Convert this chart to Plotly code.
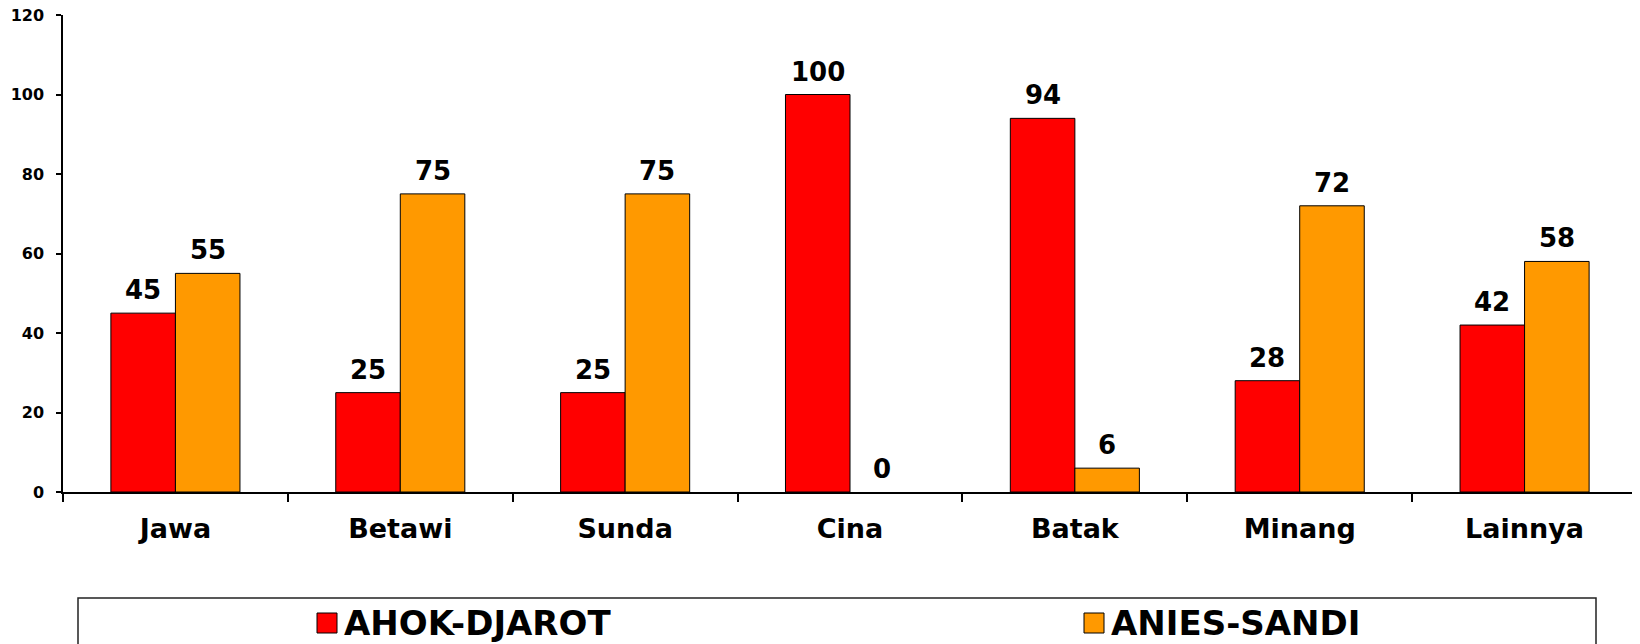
import plotly.graph_objects as go

categories = ["Jawa", "Betawi", "Sunda", "Cina", "Batak", "Minang", "Lainnya"]
ahok_djarot = [45, 25, 25, 100, 94, 28, 42]
anies_sandi = [55, 75, 75, 0, 6, 72, 58]
series_names = ["AHOK-DJAROT", "ANIES-SANDI"]
series_colors = ["#FF0000", "#FF9900"]
y_ticks = [0, 20, 40, 60, 80, 100, 120]

OFF = 8  # page body margin
W, H = 1640 - OFF, 644 - OFF
ML, MT = 63 - OFF, 15 - OFF
MR = W - (1637 - OFF)
MB = H - (492 - OFF)
PW, PH = W - ML - MR, H - MT - MB
BARGAP = 0.426
FONT = "DejaVu Sans"

def px_x(p):
    return (p - OFF - ML) / PW

def px_y(p):
    return (H - MB - (p - OFF)) / PH

fig = go.Figure()
for name, vals, col in zip(series_names, [ahok_djarot, anies_sandi], series_colors):
    fig.add_trace(go.Bar(
        x=categories, y=vals, name=name,
        marker=dict(color=col, line=dict(color="#000000", width=[1 if v > 0 else 0 for v in vals])),
        showlegend=False,
    ))

half = (1 - BARGAP) / 2
annotations = []
for s, vals in enumerate([ahok_djarot, anies_sandi]):
    off = -half / 2 if s == 0 else half / 2
    for i, v in enumerate(vals):
        annotations.append(dict(
            x=i + off, y=v, xref="x", yref="y", text=str(v), showarrow=False,
            yanchor="bottom", yshift=6,
            font=dict(family=FONT, size=26, color="#000000", weight="bold"),
        ))

shapes = [dict(type="rect", xref="paper", yref="paper",
               x0=px_x(78), x1=px_x(1596), y0=px_y(690), y1=px_y(598),
               line=dict(color="#222222", width=1.5), fillcolor="rgba(0,0,0,0)")]
leg_pos = [317, 1084]
for name, col, lx in zip(series_names, series_colors, leg_pos):
    shapes.append(dict(type="rect", xref="paper", yref="paper",
                       x0=px_x(lx), x1=px_x(lx + 20), y0=px_y(633), y1=px_y(613),
                       line=dict(color="#000000", width=1), fillcolor=col))
    annotations.append(dict(
        x=px_x(lx + 25), y=px_y(623), xref="paper", yref="paper", text=name,
        showarrow=False, xanchor="left", yanchor="middle",
        font=dict(family=FONT, size=34, color="#000000", weight="bold"),
    ))

fig.update_layout(
    width=W, height=H,
    margin=dict(l=ML, r=MR, t=MT, b=MB, pad=0, autoexpand=False),
    paper_bgcolor="white", plot_bgcolor="white",
    barmode="group", bargap=BARGAP, bargroupgap=0,
    annotations=annotations, shapes=shapes,
    showlegend=False,
    xaxis=dict(
        type="category", showgrid=False, showline=True, linecolor="#000000", linewidth=1.5,
        ticks="outside", tickson="boundaries", ticklen=8, tickcolor="#000000", tickwidth=1.5,
        tickfont=dict(family=FONT, size=27, color="#000000", weight="bold"),
        ticklabelstandoff=12, automargin=False,
    ),
    yaxis=dict(
        range=[0, 120], tickvals=y_ticks, showgrid=False, zeroline=False,
        showline=True, linecolor="#000000", linewidth=1.5,
        ticks="outside", ticklen=5, tickcolor="#000000", tickwidth=1.5,
        tickfont=dict(family=FONT, size=16, color="#000000", weight="bold"),
        ticklabelstandoff=9, ticklabeloverflow="allow", automargin=False,
    ),
)

fig.write_html("out.html")
